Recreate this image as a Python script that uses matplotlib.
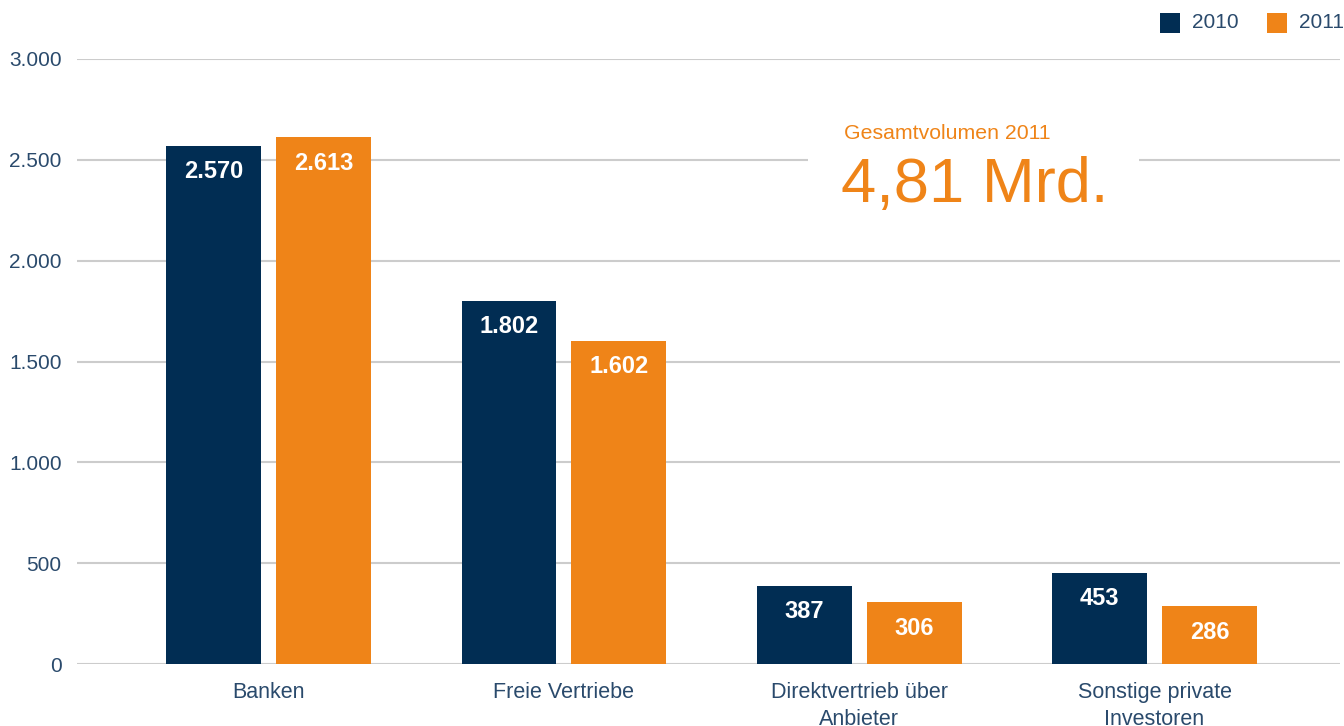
import matplotlib.pyplot as plt
from matplotlib.patches import Rectangle
import numpy as np

plt.rcParams['font.family'] = ['Liberation Sans', 'DejaVu Sans']

categories = ['Banken', 'Freie Vertriebe', 'Direktvertrieb über\nAnbieter',
              'Sonstige private\nInvestoren']
vals_2010 = [2570, 1802, 387, 453]
vals_2011 = [2613, 1602, 306, 286]
series = ['2010', '2011']
yticks = [0, 500, 1000, 1500, 2000, 2500, 3000]
ytick_labels = ['0', '500', '1.000', '1.500', '2.000', '2.500', '3.000']

navy = '#012d53'
orange = '#ef8418'
textc = '#2a4a6c'
gridc = '#cccccc'


def fmt(v):
    return f'{v:,}'.replace(',', '.')


fig = plt.figure(figsize=(13.44, 7.26), dpi=100)
ax = fig.add_axes([77 / 1344, 62 / 726, 1263 / 1344, 605 / 726])
ax.set_axisbelow(True)

x = np.arange(len(categories))
off = 0.186
w = 0.321
b1 = ax.bar(x - off, vals_2010, w, color=navy, zorder=3)
b2 = ax.bar(x + off, vals_2011, w, color=orange, zorder=3)

for bars, vals in [(b1, vals_2010), (b2, vals_2011)]:
    for b, v in zip(bars, vals):
        ax.annotate(fmt(v), (b.get_x() + b.get_width() / 2, v),
                    xytext=(0, -26), textcoords='offset pixels',
                    ha='center', va='center', color='white',
                    fontsize=17, fontweight='bold', zorder=4)

ax.set_xlim(-0.6485, 3.628)
ax.set_ylim(0, 3000)
ax.set_yticks(yticks)
ax.set_yticklabels(ytick_labels)
ax.set_xticks(x)
ax.set_xticklabels(categories, linespacing=1.35)
ax.tick_params(axis='both', length=0, labelsize=15, colors=textc)
ax.tick_params(axis='x', labelsize=15.5, pad=13)
ax.tick_params(axis='y', pad=11)
ax.grid(axis='y', color=gridc, linewidth=1.5)
for s in ax.spines.values():
    s.set_visible(False)

# white box breaking the gridline behind the total
ax.add_patch(Rectangle((1.828, 2250), 1.118, 550, facecolor='white',
                       edgecolor='none', zorder=1))
fig.text(844 / 1344, 1 - 139 / 726, 'Gesamtvolumen 2011', color=orange,
         fontsize=15.3, ha='left', va='baseline')
fig.text(841 / 1344, 1 - 202 / 726, '4,81 Mrd.', color=orange,
         fontsize=45.5, ha='left', va='baseline')

# legend
for i, (name, col) in enumerate(zip(series, [navy, orange])):
    x0 = 1160 + i * 107
    fig.patches.append(Rectangle((x0 / 1344, 1 - 33 / 726), 20 / 1344, 20 / 726,
                                 transform=fig.transFigure, facecolor=col,
                                 edgecolor='none'))
    fig.text((x0 + 32) / 1344, 1 - 23 / 726, name, color=textc, fontsize=15,
             ha='left', va='center')

fig.savefig('out.png', dpi=100)
